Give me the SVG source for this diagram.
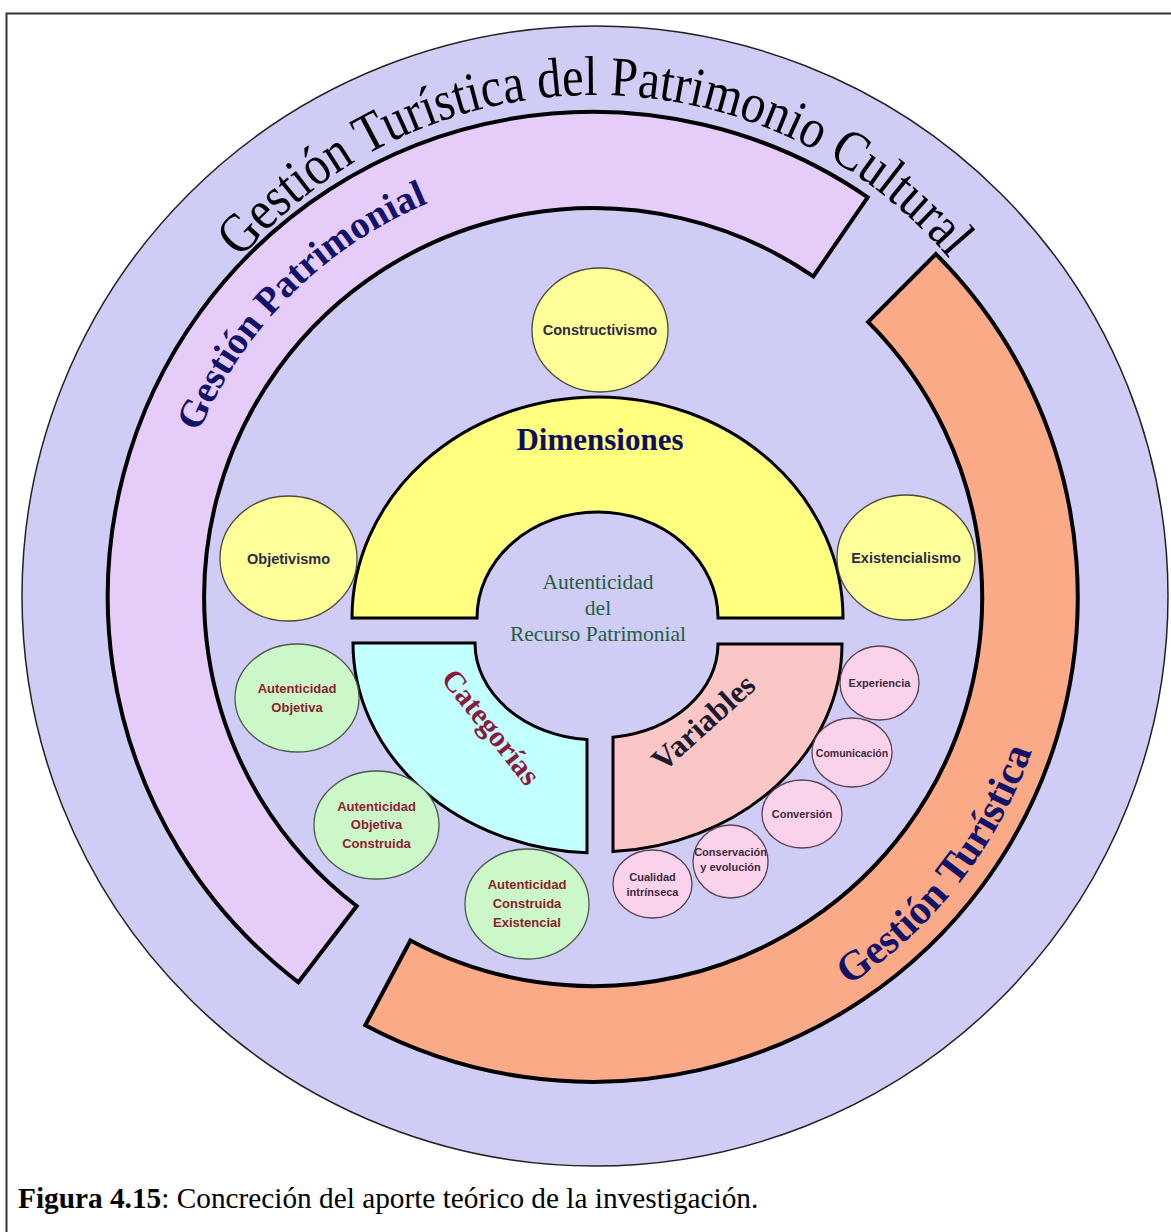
<svg xmlns="http://www.w3.org/2000/svg" width="1171" height="1232" viewBox="0 0 1171 1232">
<style>
.serif{font-family:"Liberation Serif","Times New Roman",serif}
.sans{font-family:"Liberation Sans",Arial,sans-serif;font-weight:bold;text-anchor:middle}
.band{stroke:#000;stroke-width:4;stroke-linejoin:miter}
.sector{stroke:#000;stroke-width:3;stroke-linejoin:miter}
.ycir{fill:#ffff99;stroke:#4a4a3a;stroke-width:1.3}
.gcir{fill:#ccf7c8;stroke:#4a5a4a;stroke-width:1.3}
.pcir{fill:#fad2ec;stroke:#5a4050;stroke-width:1.3}
.ylab{fill:#2b2b45;font-size:14.5px}
.glab{fill:#8c1d32;font-size:13px}
.plab{fill:#3d2a3a;font-size:11px}
.navy{fill:#12126b;font-weight:bold}
</style>
<defs>
<path id="titlePath" d="M 130 560 A 465 465 0 0 1 1060 560"/>
<path id="patPath" d="M 223.2 810.5 A 427 427 0 0 1 806.5 227.2"/>
<path id="turPath" d="M 434 1034 A 465 465 0 0 0 978.5 337"/>
</defs>
<rect width="1171" height="1232" fill="#fff"/>
<rect x="6.5" y="13.5" width="1180" height="1240" fill="none" stroke="#333" stroke-width="2"/>

<g id="outer-ring">
<ellipse cx="595" cy="596" rx="573" ry="570" fill="#cfcdf5" stroke="#222" stroke-width="1.5"/>
<text class="serif" font-size="56" fill="#000" text-anchor="middle"><textPath href="#titlePath" startOffset="50%" textLength="805" lengthAdjust="spacingAndGlyphs">Gestión Turística del Patrimonio Cultural</textPath></text>
</g>

<g id="gestion-patrimonial">
<path class="band" fill="#e6ccf8" d="M 298.4 982.3 A 485 485 0 0 1 867.7 197.3 L 813.3 276.4 A 389 389 0 0 0 356.7 906 Z"/>
<text class="serif navy" font-size="38.5" text-anchor="middle"><textPath href="#patPath" startOffset="50%">Gestión Patrimonial</textPath></text>
</g>

<g id="gestion-turistica">
<path class="band" fill="#faaa87" d="M 935.9 254.1 A 485 485 0 0 1 365.3 1025.2 L 410.4 940.5 A 389 389 0 0 0 868.1 321.9 Z"/>
<text class="serif navy" font-size="41.5" text-anchor="middle"><textPath href="#turPath" startOffset="50%">Gestión Turística</textPath></text>
</g>

<g id="dimensiones">
<path class="sector" fill="#ffff80" d="M 352 618 A 245.5 221 0 0 1 843 618 L 718 618 A 120.5 106 0 0 0 477 618 Z"/>
<text class="serif" x="600" y="450" font-size="31" font-weight="bold" fill="#0f0f5e" text-anchor="middle">Dimensiones</text>
</g>

<g id="categorias">
<path class="sector" fill="#c2ffff" d="M 353 643 A 244.5 210 0 0 0 587 852.8 L 587 739.6 A 122.5 97 0 0 1 475 643 Z"/>
<text class="serif" transform="translate(491 727) rotate(51.5)" y="10" font-size="30" font-weight="bold" fill="#8c1a3c" text-anchor="middle">Categorías</text>
</g>

<g id="variables">
<path class="sector" fill="#fbc6c6" d="M 842 644 A 244.5 208 0 0 1 613 851.6 L 613 737.2 A 120.5 94 0 0 0 718 644 Z"/>
<text class="serif" transform="translate(703 722) rotate(-42)" y="11" font-size="31.5" font-weight="bold" fill="#1a1a30" text-anchor="middle">Variables</text>
</g>

<g id="autenticidad-centro">
<text class="serif" font-size="21.5" fill="#255e3b" text-anchor="middle"><tspan x="598" y="589">Autenticidad</tspan><tspan x="598" y="615">del</tspan><tspan x="598" y="641">Recurso Patrimonial</tspan></text>
</g>

<g id="constructivismo">
<ellipse class="ycir" cx="600" cy="330" rx="68" ry="62"/>
<text class="sans ylab" x="600" y="335">Constructivismo</text>
</g>
<g id="objetivismo">
<ellipse class="ycir" cx="288.5" cy="558.5" rx="68.5" ry="62.5"/>
<text class="sans ylab" x="288.5" y="564">Objetivismo</text>
</g>
<g id="existencialismo">
<ellipse class="ycir" cx="906" cy="557.5" rx="69" ry="62.5"/>
<text class="sans ylab" x="906" y="562.5">Existencialismo</text>
</g>

<g id="autenticidad-objetiva">
<ellipse class="gcir" cx="297" cy="698" rx="62" ry="54"/>
<text class="sans glab"><tspan x="297" y="692.5">Autenticidad</tspan><tspan x="297" y="711.5">Objetiva</tspan></text>
</g>
<g id="autenticidad-objetiva-construida">
<ellipse class="gcir" cx="376.5" cy="825" rx="62.5" ry="54"/>
<text class="sans glab"><tspan x="376.5" y="810.5">Autenticidad</tspan><tspan x="376.5" y="829">Objetiva</tspan><tspan x="376.5" y="848">Construida</tspan></text>
</g>
<g id="autenticidad-construida-existencial">
<ellipse class="gcir" cx="527" cy="904" rx="62" ry="55"/>
<text class="sans glab"><tspan x="527" y="888.5">Autenticidad</tspan><tspan x="527" y="907.5">Construida</tspan><tspan x="527" y="926.5">Existencial</tspan></text>
</g>

<g id="experiencia">
<ellipse class="pcir" cx="879.5" cy="683" rx="39.5" ry="37"/>
<text class="sans plab" x="879.5" y="686.5">Experiencia</text>
</g>
<g id="comunicacion">
<ellipse class="pcir" cx="852" cy="752.5" rx="40" ry="34.5"/>
<text class="sans plab" x="852" y="756.5" style="font-size:10.5px">Comunicación</text>
</g>
<g id="conversion">
<ellipse class="pcir" cx="802" cy="814" rx="40" ry="34"/>
<text class="sans plab" x="802" y="818">Conversión</text>
</g>
<g id="conservacion">
<ellipse class="pcir" cx="730.5" cy="861.5" rx="37.5" ry="36.5"/>
<text class="sans plab"><tspan x="730.5" y="856">Conservación</tspan><tspan x="730.5" y="871">y  evolución</tspan></text>
</g>
<g id="cualidad">
<ellipse class="pcir" cx="652.5" cy="884" rx="39.5" ry="34"/>
<text class="sans plab"><tspan x="652.5" y="881">Cualidad</tspan><tspan x="652.5" y="896">intrínseca</tspan></text>
</g>

<g id="connectors"></g>

<text class="serif" x="18" y="1208" font-size="29.3" fill="#000"><tspan font-weight="bold">Figura 4.15</tspan>: Concreción del aporte teórico de la investigación.</text>
</svg>
